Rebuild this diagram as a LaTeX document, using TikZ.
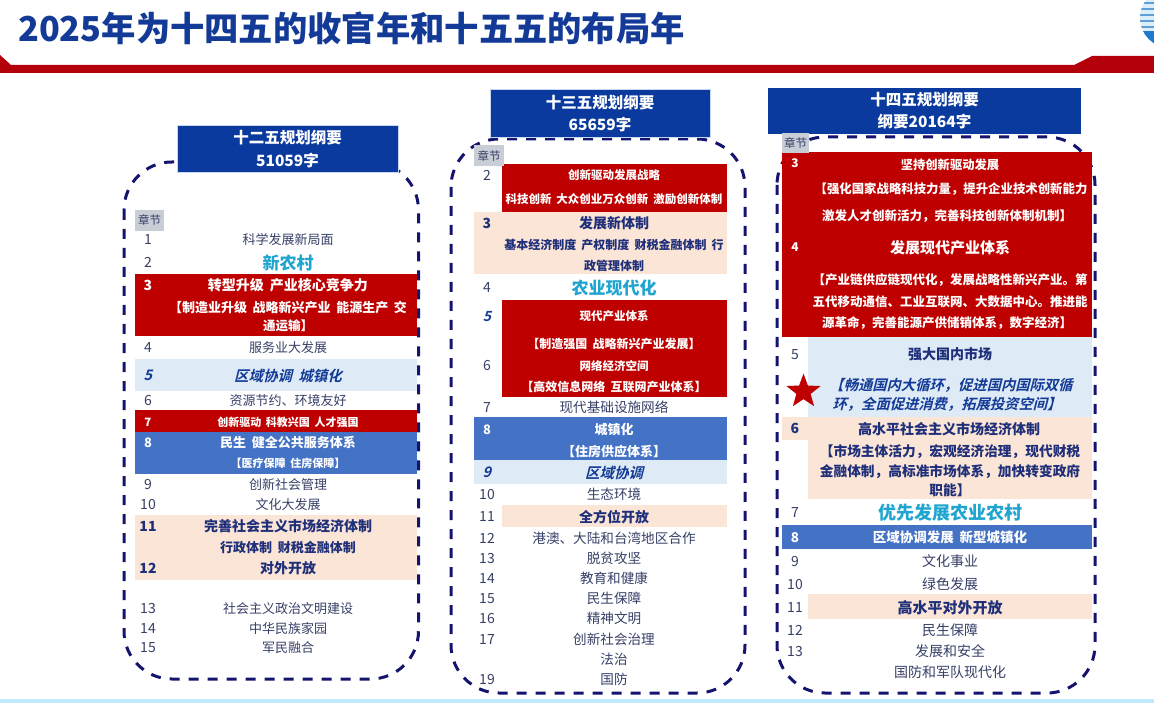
\documentclass[tikz,border=0pt]{standalone}
\usepackage{fontspec}
\setmainfont{Noto Sans CJK SC}
\newfontfamily\slantfont[FakeSlant=0.25]{Noto Sans CJK SC Bold}
\usetikzlibrary{shapes.geometric}
\definecolor{navyhead}{HTML}{0B3A9E}
\definecolor{headglow}{HTML}{C8D6F0}
\definecolor{dashnavy}{HTML}{14146E}
\definecolor{redbar}{HTML}{BE0000}
\definecolor{bandred}{HTML}{B4000A}
\definecolor{bluebar}{HTML}{4472C4}
\definecolor{peachbar}{HTML}{FBE5D6}
\definecolor{palebar}{HTML}{DEEAF6}
\definecolor{greybox}{HTML}{C9CDD6}
\definecolor{inkplain}{HTML}{363F66}
\definecolor{inkbold}{HTML}{1F2F7A}
\definecolor{inkslant}{HTML}{123A96}
\definecolor{inkcyan}{HTML}{1FA5CF}
\definecolor{globepale}{HTML}{DCEEF9}
\definecolor{globestripe}{HTML}{5E9FD6}
\definecolor{globeblue}{HTML}{1C7AD0}
\newcommand{\sz}[1]{\fontsize{#1}{#1}\selectfont}
\newcommand{\widegap}{\setlength{\spaceskip}{.43em}}
\tikzset{
  every node/.append style={yshift=-0.6pt},
  plainrow/.style={inner sep=0pt, text=inkplain, font=\sz{#1}},
  plainrow/.default=13,
  numrow/.style={inner sep=0pt, text=inkplain, font=\sz{14}},
  boldrow/.style={inner sep=0pt, font=\sz{#1}\bfseries\widegap},
  boldrow/.default=13,
  slantrow/.style={inner sep=0pt, text=inkslant, font=\sz{#1}\slantfont\widegap},
  slantrow/.default=14.5,
  cyanrow/.style={inner sep=0pt, text=inkcyan, font=\sz{#1}\bfseries},
  head/.style={draw=headglow, line width=1pt, fill=navyhead, text=white, align=center, inner sep=0pt, font=\sz{15.5}\bfseries},
  chapter/.style={fill=greybox, text=inkplain, inner sep=0pt, font=\sz{11.5}},
  dashbox/.style={draw=dashnavy, line width=3pt, dash pattern=on 10pt off 9pt, rounded corners=48pt}
}
\begin{document}
\begin{tikzpicture}[x=1pt,y=-1pt]
  \useasboundingbox (0,0) rectangle (1154,703);
  % title and band
  \node [inner sep=0pt, anchor=west, text=inkslant, font=\sz{34.3}\bfseries] (title) at (18,28) {2025年为十四五的收官年和十五五的布局年};
  \fill[bandred] (0,55) -- (11,65) -- (1074,65) -- (1092,56) -- (1154,56) -- (1154,73) -- (0,73) -- cycle;
  \begin{scope}
    \clip (1170,18) circle (30);
    \fill[globepale] (1130,-15) rectangle (1154,32);
    \foreach \y in {3,9,15,21,27} \draw[globestripe, line width=2.2pt] (1130,\y) -- (1154,\y);
    \fill[globeblue] (1130,31) rectangle (1154,50);
  \end{scope}
  \fill[cyan!25] (0,699) rectangle (1154,703);

  % dashed frames
  \draw[dashbox] (124,162) rectangle (418.5,679);
  \draw[dashbox] (451,139) rectangle (745,693);
  \draw[dashbox] (777,137) rectangle (1095,693);

  % headers
  \node [head, minimum width=221pt, minimum height=47pt] (hd12) at (287.5,148.5) {十二五规划纲要\\[7pt]51059字};
  \node [head, minimum width=220pt, minimum height=48pt] (hd13) at (600,113) {十三五规划纲要\\[7pt]65659字};
  \node [head, draw=none, minimum width=313pt, minimum height=46pt] (hd14) at (924.5,110) {十四五规划纲要\\[7pt]纲要20164字};

  % first column
  \node [chapter, minimum width=29pt, minimum height=21pt] (cha) at (149.5,219.5) {章节};
  \fill[redbar] (135,274) rectangle (417,336);
  \fill[palebar] (135,359) rectangle (417,391);
  \fill[redbar] (135,410) rectangle (417,432);
  \fill[bluebar] (135,432) rectangle (417,474);
  \fill[peachbar] (135,515) rectangle (417,580);
  \foreach \n/\y/\lbl in {1/239/科学发展新局面,4/347/服务业大发展,6/400/资源节约、环境友好,9/484/创新社会管理,10/504/文化大发展,13/608/社会主义政治文明建设,14/628/中华民族家园,15/647/军民融合}{
    \node [numrow] (na\n) at (148,\y) {\n};
    \node [plainrow] (ta\n) at (288,\y) {\lbl};
  }
  \node [numrow] (na2) at (148,262) {2};
  \node [cyanrow=17] (ta2) at (288,262) {新农村};
  \node [boldrow=14, text=white] (na3) at (148,285) {3};
  \node [boldrow=14, text=white] (ta3) at (288,285) {转型升级 产业核心竞争力};
  \node [boldrow=13, text=white] (ta3b) at (288,307) {【制造业升级 战略新兴产业 能源生产 交};
  \node [boldrow=12.5, text=white] (ta3c) at (288,325) {通运输】};
  \node [slantrow] (na5) at (148,375) {5};
  \node [slantrow] (ta5) at (288,375) {区域协调 城镇化};
  \node [boldrow=11.5, text=white] (na7) at (148,422) {7};
  \node [boldrow=11, text=white] (ta7) at (288,422) {创新驱动 科教兴国 人才强国};
  \node [boldrow=13, text=white] (na8) at (148,442) {8};
  \node [boldrow=13, text=white] (ta8) at (288,442) {民生 健全公共服务体系};
  \node [boldrow=11, text=white] (ta8b) at (288,463) {【医疗保障 住房保障】};
  \node [boldrow=14, text=inkbold] (na11) at (148,526) {11};
  \node [boldrow=14, text=inkbold] (ta11) at (288,526) {完善社会主义市场经济体制};
  \node [boldrow=13, text=inkbold] (ta11b) at (288,547) {行政体制 财税金融体制};
  \node [boldrow=14, text=inkbold] (na12) at (148,568) {12};
  \node [boldrow=14, text=inkbold] (ta12) at (288,568) {对外开放};

  % second column
  \fill[redbar] (502,164) rectangle (727,212);
  \fill[peachbar] (474,212) rectangle (727,274);
  \fill[redbar] (502,300) rectangle (727,397);
  \fill[bluebar] (474,417) rectangle (727,460);
  \fill[palebar] (474,460) rectangle (727,484);
  \fill[peachbar] (502,505) rectangle (727,527);
  \node [chapter, minimum width=30pt, minimum height=21pt] (chb) at (489,155) {章节};
  \foreach \n/\y/\lbl in {7/407/现代基础设施网络,10/494/生态环境,12/538/港澳、大陆和台湾地区合作,13/558/脱贫攻坚,14/578/教育和健康,15/598/民生保障,16/618/精神文明,17/639/创新社会治理,19/679/国防}{
    \node [numrow] (nb\n) at (487,\y) {\n};
    \node [plainrow=13.6] (tb\n) at (614,\y) {\lbl};
  }
  \node [plainrow=13.6] (tblaw) at (614,659) {法治};
  \node [numrow] (nb2) at (487,175) {2};
  \node [boldrow=11.5, text=white] (tb2) at (614,175) {创新驱动发展战略};
  \node [boldrow=11.5, text=white] (tb2b) at (614,199) {科技创新 大众创业万众创新 激励创新体制};
  \node [boldrow=14, text=inkbold] (nb3) at (487,223) {3};
  \node [boldrow=14, text=inkbold] (tb3) at (614,223) {发展新体制};
  \node [boldrow=12, text=inkbold] (tb3b) at (614,244) {基本经济制度 产权制度 财税金融体制 行};
  \node [boldrow=12, text=inkbold] (tb3c) at (614,265) {政管理体制};
  \node [numrow] (nb4) at (487,287) {4};
  \node [cyanrow=17] (tb4) at (614,287) {农业现代化};
  \node [slantrow=14] (nb5) at (487,316) {5};
  \node [boldrow=11.5, text=white] (tb5) at (614,316) {现代产业体系};
  \node [boldrow=12, text=white] (tb5b) at (614,343) {【制造强国 战略新兴产业发展】};
  \node [numrow] (nb6) at (487,365) {6};
  \node [boldrow=11.5, text=white] (tb6) at (614,365) {网络经济空间};
  \node [boldrow=12, text=white] (tb6b) at (614,386) {【高效信息网络 互联网产业体系】};
  \node [boldrow=13, text=white] (nb8) at (487,429) {8};
  \node [boldrow=13, text=white] (tb8) at (614,429) {城镇化};
  \node [boldrow=13, text=white] (tb8b) at (614,451) {【住房供应体系】};
  \node [slantrow] (nb9) at (487,472) {9};
  \node [slantrow] (tb9) at (614,472) {区域协调};
  \node [numrow] (nb11) at (487,516) {11};
  \node [boldrow=14, text=inkbold] (tb11) at (614,516) {全方位开放};

  % third column
  \fill[redbar] (782,152) rectangle (1092,337);
  \fill[palebar] (808,337) rectangle (1092,417);
  \fill[peachbar] (782,417) rectangle (808,440);
  \fill[peachbar] (808,417) rectangle (1092,499);
  \fill[bluebar] (782,525) rectangle (1092,549);
  \fill[peachbar] (808,594) rectangle (1092,619);
  \node [chapter, minimum width=27pt, minimum height=20pt] (chc) at (795.5,142) {章节};
  \foreach \n/\y/\lbl in {9/561/文化事业,10/584/绿色发展,12/630/民生保障,13/651/发展和安全}{
    \node [numrow] (nc\n) at (795,\y) {\n};
    \node [plainrow=14] (tc\n) at (950,\y) {\lbl};
  }
  \node [plainrow=14] (tcdef) at (950,672) {国防和军队现代化};
  \node [boldrow=12, text=white] (nc3) at (795,163) {3};
  \node [boldrow=12.3, text=white] (tc3) at (950,164) {坚持创新驱动发展};
  \node [boldrow=12.4, text=white] (tc3b) at (951,188) {【强化国家战略科技力量，提升企业技术创新能力};
  \node [boldrow=12.5, text=white] (tc3c) at (947,215) {激发人才创新活力，完善科技创新体制机制】};
  \node [boldrow=12, text=white] (nc4) at (795,247) {4};
  \node [boldrow=15, text=white] (tc4) at (950,247) {发展现代产业体系};
  \node [boldrow=12.5, text=white] (tc4b) at (950,279) {【产业链供应链现代化，发展战略性新兴产业。第};
  \node [boldrow=12.5, text=white] (tc4c) at (950,301) {五代移动通信、工业互联网、大数据中心。推进能};
  \node [boldrow=12.5, text=white] (tc4d) at (947,322) {源革命，完善能源产供储销体系，数字经济】};
  \node [numrow] (nc5) at (795,354) {5};
  \node [boldrow=14, text=inkbold] (tc5) at (950,354) {强大国内市场};
  \node [star, star points=5, star point ratio=2.4, fill=redbar, inner sep=0pt, minimum size=36pt] (mark) at (803.5,391) {};
  \node [slantrow=14.3] (tc5b) at (951,385) {【畅通国内大循环，促进国内国际双循};
  \node [slantrow=14.3] (tc5c) at (947,404) {环，全面促进消费，拓展投资空间】};
  \node [boldrow=14, text=inkbold] (nc6) at (795,428) {6};
  \node [boldrow=14, text=inkbold] (tc6) at (949,429) {高水平社会主义市场经济体制};
  \node [boldrow=13.7, text=inkbold] (tc6b) at (950,451) {【市场主体活力，宏观经济治理，现代财税};
  \node [boldrow=13.7, text=inkbold] (tc6c) at (950,471) {金融体制，高标准市场体系，加快转变政府};
  \node [boldrow=13.7, text=inkbold] (tc6d) at (950,490) {职能】};
  \node [numrow] (nc7) at (795,512) {7};
  \node [cyanrow=18] (tc7) at (950,512) {优先发展农业农村};
  \node [boldrow=13.5, text=white] (nc8) at (795,537) {8};
  \node [boldrow=13.5, text=white] (tc8) at (950,537) {区域协调发展 新型城镇化};
  \node [numrow] (nc11) at (795,607) {11};
  \node [boldrow=15, text=inkbold] (tc11) at (950,607) {高水平对外开放};
\end{tikzpicture}
\end{document}
